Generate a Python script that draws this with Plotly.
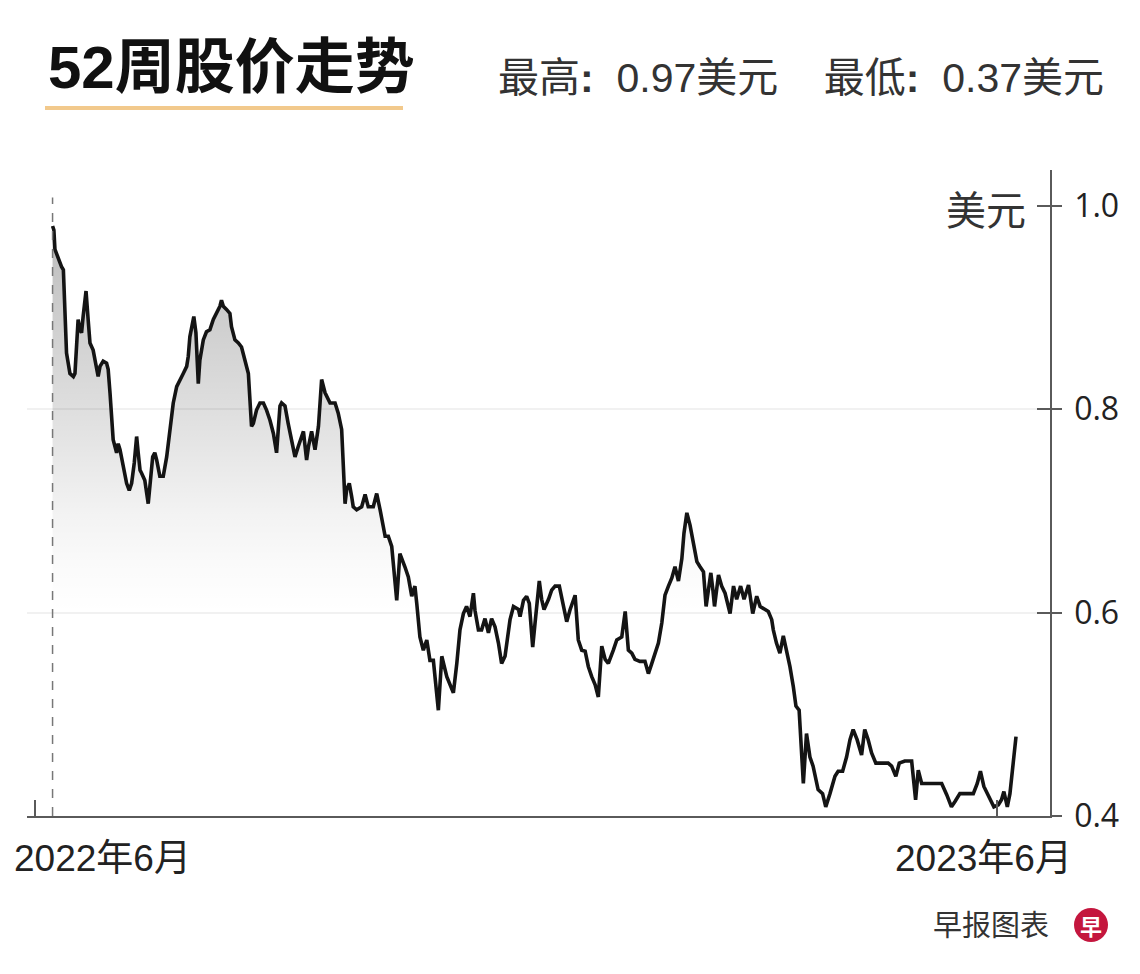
import plotly.graph_objects as go

# ---------------- data (days since 2022-06-01, price in USD) ----------------
days = [
    6.7, 7.2, 7.6, 8.2, 8.9, 10.1, 10.8, 11.4, 12.0, 13.3,
    14.6, 15.2, 16.4, 17.1, 17.7, 18.3, 19.4, 20.2, 20.9, 22.1,
    23.4, 24.0, 24.7, 25.9, 27.2, 27.8, 28.5, 29.1, 29.7, 31.0,
    31.6, 32.3, 33.5, 34.8, 35.8, 36.7, 37.7, 38.6, 39.2, 39.9,
    40.5, 41.7, 43.0, 43.6, 44.7, 45.5, 46.2, 47.4, 48.7, 50.0,
    51.2, 52.5, 53.8, 55.0, 56.3, 57.6, 58.2, 58.8, 59.5, 60.3,
    61.1, 62.0, 62.6, 63.9, 65.1, 66.4, 67.7, 68.9, 70.2, 70.8,
    71.5, 72.7, 74.0, 74.6, 75.9, 77.2, 78.4, 79.7, 81.0, 82.2,
    82.9, 84.1, 85.4, 86.7, 87.9, 89.2, 90.5, 91.7, 93.0, 93.6,
    94.9, 96.1, 97.4, 98.7, 99.9,
    101.9, 103.1, 103.8, 105.0, 106.3, 107.6, 108.8, 110.1, 112.0, 113.9,
    115.1, 116.4, 117.7, 118.3, 119.3, 120.2, 120.8, 122.1, 124.0, 125.3,
    126.5, 128.4, 129.7, 131.0, 132.9, 134.1, 135.4, 137.3, 138.5, 140.4,
    141.7, 143.0, 144.2, 144.9, 146.1, 147.4, 148.7, 149.9, 151.2, 153.1,
    154.4, 156.3, 158.8, 160.1, 161.3, 162.6, 163.8, 165.1, 166.4, 167.0,
    168.3, 169.5, 170.8, 172.1, 173.3, 174.6, 175.9, 177.1, 178.4, 180.3,
    181.6, 183.5, 184.1, 185.4, 186.6, 187.6, 188.9,
    189.8, 191.4, 192.3, 193.2, 194.9, 196.1, 197.4, 199.0, 200.6, 201.8,
    203.1, 205.0, 206.2, 207.5, 208.8, 210.0, 211.3, 212.6, 213.8, 215.1,
    216.4, 217.6, 219.5, 220.8, 222.7, 224.0, 225.2, 226.5, 227.7, 229.6,
    231.5, 232.8, 234.1, 235.3, 236.6, 237.9, 239.1, 240.4, 241.7, 242.9,
    244.2, 245.5, 246.3, 247.4, 248.6, 249.9, 251.2, 252.4, 253.7, 254.7,
    255.6, 256.5, 257.2, 257.9, 259.4, 260.6, 261.9, 263.8, 265.1, 266.3,
    267.8, 269.1, 270.8, 272.4, 273.9, 275.2, 277.1, 278.3, 279.6,
    280.2, 281.4, 282.7, 284.0, 285.2, 286.5, 287.8, 288.8, 290.0, 290.9,
    291.6, 292.8, 294.1, 295.3, 297.2, 298.9, 300.1, 301.7, 303.6, 304.8,
    306.5, 308.0, 309.3, 310.5, 312.0, 313.7, 314.9, 316.2, 317.5, 319.1,
    321.3, 323.8, 325.1, 326.7, 328.0, 330.1, 332.7, 333.5, 334.2, 335.2,
    336.5, 338.4, 340.9, 344.1, 346.0, 347.8, 349.1, 351.0, 353.5, 356.1,
    357.6, 358.8, 360.1, 361.4, 362.6, 363.9, 365.6, 366.8, 367.7, 369.0,
    370.0, 371.0, 372.3,
]
prices = [
    0.980, 0.976, 0.957, 0.953, 0.947, 0.940, 0.937, 0.898, 0.855, 0.835,
    0.832, 0.835, 0.888, 0.878, 0.875, 0.891, 0.916, 0.888, 0.865, 0.858,
    0.842, 0.832, 0.842, 0.847, 0.845, 0.839, 0.816, 0.793, 0.770, 0.757,
    0.766, 0.760, 0.743, 0.727, 0.720, 0.727, 0.747, 0.773, 0.757, 0.740,
    0.737, 0.730, 0.707, 0.727, 0.753, 0.757, 0.750, 0.734, 0.734, 0.753,
    0.780, 0.806, 0.822, 0.829, 0.835, 0.842, 0.852, 0.871, 0.881, 0.891,
    0.875, 0.825, 0.848, 0.868, 0.876, 0.878, 0.888, 0.894, 0.901, 0.907,
    0.901, 0.898, 0.894, 0.881, 0.868, 0.865, 0.861, 0.848, 0.835, 0.783,
    0.786, 0.799, 0.806, 0.806, 0.799, 0.789, 0.776, 0.757, 0.803, 0.806,
    0.803, 0.786, 0.770, 0.753, 0.763,
    0.778, 0.750, 0.763, 0.778, 0.760, 0.783, 0.829, 0.816, 0.806, 0.806,
    0.796, 0.780, 0.707, 0.721, 0.727, 0.714, 0.704, 0.701, 0.704, 0.716,
    0.704, 0.704, 0.717, 0.701, 0.675, 0.675, 0.665, 0.612, 0.658, 0.645,
    0.635, 0.616, 0.626, 0.609, 0.576, 0.563, 0.573, 0.553, 0.553, 0.504,
    0.557, 0.537, 0.521, 0.550, 0.583, 0.599, 0.606, 0.596, 0.619, 0.602,
    0.583, 0.583, 0.594, 0.580, 0.594, 0.586, 0.570, 0.550, 0.557, 0.593,
    0.606, 0.603, 0.596, 0.612, 0.616, 0.609, 0.566,
    0.590, 0.631, 0.613, 0.603, 0.613, 0.622, 0.626, 0.626, 0.606, 0.591,
    0.603, 0.617, 0.573, 0.563, 0.562, 0.547, 0.537, 0.529, 0.517, 0.567,
    0.554, 0.550, 0.563, 0.573, 0.576, 0.601, 0.563, 0.560, 0.554, 0.552,
    0.552, 0.540, 0.550, 0.560, 0.570, 0.590, 0.617, 0.626, 0.634, 0.645,
    0.631, 0.653, 0.678, 0.698, 0.686, 0.668, 0.650, 0.645, 0.640, 0.606,
    0.626, 0.639, 0.624, 0.606, 0.637, 0.626, 0.619, 0.599, 0.626, 0.613,
    0.626, 0.613, 0.627, 0.599, 0.616, 0.606, 0.603, 0.601, 0.593,
    0.583, 0.570, 0.560, 0.577, 0.563, 0.547, 0.527, 0.508, 0.504, 0.468,
    0.432, 0.481, 0.458, 0.449, 0.426, 0.422, 0.409, 0.422, 0.439, 0.444,
    0.444, 0.458, 0.475, 0.485, 0.475, 0.460, 0.485, 0.475, 0.462, 0.452,
    0.452, 0.452, 0.449, 0.439, 0.452, 0.454, 0.454, 0.436, 0.416, 0.445,
    0.432, 0.432, 0.432, 0.432, 0.421, 0.409, 0.414, 0.422, 0.422, 0.422,
    0.432, 0.444, 0.429, 0.422, 0.416, 0.409, 0.411, 0.416, 0.424, 0.409,
    0.422, 0.445, 0.478,
]

y_ticks = [0.4, 0.6, 0.8, 1.0]
y_ticktext = ["0.4", "0.6", "0.8", "1.0"]
grid_vals = [0.6, 0.8]
x_ticks = [0, 365]
x_labels = ["2022年6月", "2023年6月"]
title_text = "52周股价走势"
header_text = "最高<b>:</b>  0.97美元    最低<b>:</b>  0.37美元"
unit_text = "美元"
source_text = "早报图表"

# ---------------- geometry helpers (page pixels -> paper) ----------------
OFF = 8                      # default body margin of the html page
W, H = 1140 - 2 * OFF, 974 - 2 * OFF
L, R, T, B = 27, 1050, 170, 816   # plot area in page pixels


def px(xp):
    return (xp - L) / (R - L)


def py(yp):
    return (B - yp) / (B - T)


CJK = "Liberation Sans, Noto Sans CJK SC, sans-serif"

fig = go.Figure()

fig.add_trace(go.Scatter(
    x=days, y=prices, mode="lines",
    line=dict(color="#141414", width=3.6),
    fill="tozeroy",
    fillgradient=dict(
        type="vertical", start=0.6, stop=0.98,
        colorscale=[[0, "rgba(0,0,0,0)"], [0.13, "rgba(0,0,0,0.02)"],
                    [0.26, "rgba(0,0,0,0.05)"], [0.53, "rgba(0,0,0,0.13)"],
                    [0.79, "rgba(0,0,0,0.2)"], [1, "rgba(0,0,0,0.27)"]],
    ),
    hoverinfo="skip", showlegend=False,
))
# empty traces so the helper axes are drawn
fig.add_trace(go.Scatter(x=[], y=[], yaxis="y2", showlegend=False))
fig.add_trace(go.Scatter(x=[], y=[], yaxis="y3", showlegend=False))

yr = [0.4, 1.035]
fig.update_layout(
    width=W, height=H,
    margin=dict(l=L - OFF, r=W - (R - OFF), t=T - OFF, b=H - (B - OFF), pad=0),
    paper_bgcolor="white", plot_bgcolor="white",
    showlegend=False,
    xaxis=dict(range=[-3.0, 385.2], showline=True, linecolor="#5a5a5a", linewidth=1.5,
               ticks="inside", ticklen=16, tickwidth=1.5, tickcolor="#5a5a5a",
               tickvals=x_ticks, showticklabels=False, showgrid=False, zeroline=False,
               fixedrange=True),
    yaxis=dict(range=yr, side="right", showline=True, linecolor="#5a5a5a", linewidth=1.5,
               ticks="outside", ticklen=10, tickwidth=1.5, tickcolor="#5a5a5a",
               tickvals=y_ticks, ticktext=y_ticktext, ticklabelstandoff=6,
               tickfont=dict(family="Open Sans, sans-serif", size=32, color="#222"),
               showgrid=False, zeroline=False),
    yaxis2=dict(range=yr, overlaying="y", side="right", anchor="x", ticks="inside",
                ticklen=13, tickwidth=1.5, tickcolor="#5a5a5a", tickvals=y_ticks,
                showticklabels=False, showline=False, showgrid=False, zeroline=False),
    yaxis3=dict(range=yr, overlaying="y", side="right", anchor="x", ticks="",
                tickvals=grid_vals, showticklabels=False, showline=False,
                showgrid=True, gridcolor="#f1f1f1", gridwidth=2, zeroline=False),
)

# dashed start-of-period line
fig.add_shape(type="line", xref="x", yref="y", x0=days[0], x1=days[0], y0=0.4, y1=1.008,
              line=dict(color="#777", width=1.5, dash="dash"))

# title and underline
fig.add_annotation(xref="paper", yref="paper", x=px(46), y=py(68), xanchor="left",
                   yanchor="middle", showarrow=False, text="<b>" + title_text + "</b>",
                   font=dict(family="Liberation Sans, Noto Sans CJK SC", size=60, color="#111"))
fig.add_shape(type="line", xref="paper", yref="paper", x0=px(45), x1=px(403),
              y0=py(108), y1=py(108), line=dict(color="#F2C98C", width=4))

# header (high / low)
fig.add_annotation(xref="paper", yref="paper", x=px(1106), y=py(78), xanchor="right",
                   yanchor="middle", showarrow=False, text=header_text,
                   font=dict(family=CJK, size=41, color="#333"))

# unit label
fig.add_annotation(xref="paper", yref="paper", x=px(1028), y=py(211), xanchor="right",
                   yanchor="middle", showarrow=False, text=unit_text,
                   font=dict(family=CJK, size=40, color="#333"))

# x labels
fig.add_annotation(xref="paper", yref="paper", x=px(12), y=py(858), xanchor="left",
                   yanchor="middle", showarrow=False, text=x_labels[0],
                   font=dict(family=CJK, size=37, color="#222"))
fig.add_annotation(xref="paper", yref="paper", x=px(1074), y=py(858), xanchor="right",
                   yanchor="middle", showarrow=False, text=x_labels[1],
                   font=dict(family=CJK, size=37, color="#222"))

# source + logo
fig.add_annotation(xref="paper", yref="paper", x=px(1051), y=py(926), xanchor="right",
                   yanchor="middle", showarrow=False, text=source_text,
                   font=dict(family=CJK, size=29, color="#333"))
fig.add_shape(type="circle", xref="paper", yref="paper", x0=px(1074), x1=px(1108),
              y0=py(942), y1=py(908), line=dict(width=0), fillcolor="#C4163E")
fig.add_annotation(xref="paper", yref="paper", x=px(1091), y=py(925), xanchor="center",
                   yanchor="middle", showarrow=False, text="<b>早</b>",
                   font=dict(family="Noto Sans CJK SC", size=22, color="white"))

fig.write_html("out.html", config=dict(displayModeBar=False))
